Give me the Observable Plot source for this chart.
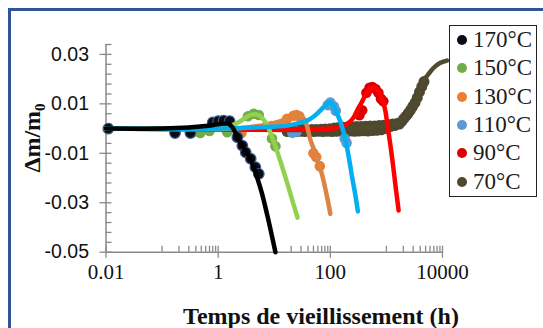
<!DOCTYPE html>
<html><head><meta charset="utf-8">
<script src="https://cdn.jsdelivr.net/npm/d3@7"></script>
<script src="https://cdn.jsdelivr.net/npm/@observablehq/plot@0.6"></script>
<style>
html,body{margin:0;padding:0;background:#fff;}
#wrap{position:relative;width:543px;height:328px;overflow:hidden;background:#fff;}
#frame{position:absolute;left:8px;top:8px;width:700px;height:500px;border:3px solid #2f5597;box-sizing:border-box;}
#chart{position:absolute;left:0;top:0;}
#legend{position:absolute;left:449px;top:25px;width:86px;height:170px;border:1.5px solid #222;background:#fff;}
.row{height:28.33px;display:flex;align-items:center;font-family:"Liberation Serif",serif;font-size:23px;color:#1b1b1b;white-space:nowrap;}
.sw{width:10px;height:10px;border-radius:50%;margin-left:7px;margin-right:6px;flex:none;}
#xt{position:absolute;left:321px;top:304px;transform:translateX(-50%);font-family:"Liberation Serif",serif;font-weight:bold;font-size:24px;line-height:24px;white-space:nowrap;color:#111;}
#yt{position:absolute;left:33px;top:138px;transform:translate(-50%,-50%) rotate(-90deg);font-family:"Liberation Serif",serif;font-weight:bold;font-size:24px;line-height:24px;white-space:nowrap;color:#111;}
#yt span{font-size:15px;position:relative;top:5px;}
</style>
</head><body>
<div id="wrap">
  <div id="frame"></div>
  <div id="chart"></div>
  <div id="legend"></div>
  <div id="xt">Temps de vieillissement (h)</div>
  <div id="yt">Δm/m<span>0</span></div>
</div>
<script>
// ---- series names and colours
const seriesNames = ["170°C","150°C","130°C","110°C","90°C","70°C"];
const markerColors = ["#0b0b16","#74ab4a","#ed7d31","#5b9bd5","#dd0000","#4d482e"];
const lineColors   = ["#000000","#92d050","#dc8444","#00b0f0","#ff0000","#4f4a30"];

// ---- axis ticks
const xMajor = [0.01, 1, 100, 10000];
const xTickLabels = ["0.01","1","100","10000"];
const xMinor = [0.1,0.2,0.3,0.4,0.5,0.6,0.7,0.8,0.9,10,20,30,40,50,60,70,80,90,1000,2000,3000,4000,5000,6000,7000,8000,9000];
const yMajor = [0.03, 0.01, -0.01, -0.03, -0.05];
const yTickLabels = ["0.03","0.01","-0.01","-0.03","-0.05"];
const yMinor = [0.034,0.026,0.022,0.018,0.014,0.006,0.002,-0.002,-0.006,-0.014,-0.018,-0.022,-0.026,-0.034,-0.038,-0.042,-0.046];

// ---- 170°C
const pts170T = [0.011,0.17,0.32,0.8,1.0,1.25,1.6,2.2,2.7,3.1,3.8,4.6,5.3];
const pts170V = [0.0,-0.0018,-0.0018,0.0025,0.003,0.0032,0.003,-0.0035,-0.0069,-0.0096,-0.0122,-0.0156,-0.0183];
const fit170T = [0.01,0.1,0.3,0.6,1.0,1.5,1.8,2.2,2.8,3.8,4.9,6.0,7.5,9.0,10.5];
const fit170V = [0,0,0.0004,0.001,0.0017,0.002,0.0005,-0.0035,-0.0075,-0.0125,-0.0195,-0.026,-0.035,-0.043,-0.05];

// ---- 150°C
const pts150T = [0.48,0.7,1.45,3.4,4.3,5.3,9.1,10.5];
const pts150V = [-0.0018,-0.001,-0.0015,0.005,0.006,0.0055,-0.004,-0.0072];
const fit150T = [0.01,0.5,1.0,1.5,2.0,2.7,3.5,4.5,5.5,6.5,7.8,9.0,10.5,13,17,21,26];
const fit150V = [0,0,0.0002,0.0008,0.0018,0.0035,0.0052,0.0058,0.0052,0.0035,0.0005,-0.003,-0.0072,-0.0135,-0.022,-0.029,-0.036];

// ---- 130°C
const pts130T = [2.6,9,13,17,22,25,28,50,56,65];
const pts130V = [-0.0018,0.001,0.0015,0.004,0.0052,0.0055,0.005,-0.010,-0.0115,-0.0152];
const fit130T = [0.01,2,4,8,13,17,21,25,29,33,37,44,52,60,70,80,90,100];
const fit130V = [0,0,0.0007,0.0018,0.003,0.004,0.005,0.0058,0.0055,0.0042,0.0022,-0.0045,-0.009,-0.0135,-0.018,-0.0235,-0.029,-0.0345];

// ---- 110°C
const pts110T = [0.17,0.34,1.0,21,25,90,100,115,125,180,195];
const pts110V = [-0.0017,-0.0017,0.003,-0.0017,-0.0012,0.0095,0.0105,0.009,0.0072,-0.004,-0.0058];
const fit110T = [0.01,1,5,17,30,39,50,66,80,92,100,110,132,150,163,187,215,245,280,310];
const fit110V = [0,0,0.0005,0.0012,0.0025,0.0033,0.0048,0.0073,0.0092,0.0104,0.0107,0.0098,0.006,0.003,0.0005,-0.0048,-0.012,-0.0197,-0.027,-0.0335];

// ---- 90°C
const pts90T = [330,370,440,500,560,640,720,800,880];
const pts90V = [0.0054,0.0074,0.0145,0.0165,0.0168,0.016,0.0145,0.0121,0.011];
const fit90T = [0.01,100,130,170,210,260,300,360,453,556,650,780,870,955,1050,1170,1300,1450,1650];
const fit90V = [0,0,0.0003,0.001,0.0022,0.0045,0.0073,0.0105,0.0147,0.0167,0.0163,0.014,0.011,0.0073,0.001,-0.0062,-0.014,-0.023,-0.0331];

// ---- 70°C
const pts70T = [17,18.6,20.4,22.4,24.5,26.9,29.5,32,35,39,43,47,51,56,62,68,74,81,89,98,107,118,129,141,155,170,186,204,224,245,269,295,324,355,389,427,468,513,562,617,676,741,813,891,977,1070,1170,1290,1410,1550,1700,1860,2040,2240,2450,2690,2950,3240,3550,3890,4270,4680];
const pts70V = [-0.0012,-0.0005,-0.0011,-0.0004,-0.0012,-0.0005,-0.0011,-0.0004,-0.0012,-0.0005,-0.0011,-0.0004,-0.0012,-0.0004,-0.0011,-0.0003,-0.0012,-0.0002,-0.0011,-0.0001,-0.0012,0.0002,-0.0011,0.0004,-0.001,0.0005,-0.0011,0.0006,-0.001,0.0007,-0.0011,0.0008,-0.001,0.0008,-0.0009,0.0009,-0.001,0.001,-0.0008,0.001,-0.0007,0.0012,-0.0005,0.0013,0.0,0.0016,0.0008,0.0018,0.0012,0.002,0.0018,0.0028,0.004,0.005,0.0062,0.0075,0.009,0.0105,0.0125,0.0148,0.017,0.019];
const fit70T = [0.01,20,50,100,200,500,1000,1500,2000,2350,2700,3000,3500,4000,4600,5400,6900,9000,12000];
const fit70V = [0,-0.0006,-0.0006,-0.0004,-0.0002,0.0003,0.001,0.0022,0.004,0.006,0.0078,0.0095,0.0125,0.0155,0.0195,0.0215,0.0245,0.0265,0.0275];

const ptsT = [pts170T,pts150T,pts130T,pts110T,pts90T,pts70T];
const ptsV = [pts170V,pts150V,pts130V,pts110V,pts90V,pts70V];
const fitT = [fit170T,fit150T,fit130T,fit110T,fit90T,fit70T];
const fitV = [fit170V,fit150V,fit130V,fit110V,fit90V,fit70V];
const zip = (T,V) => T.map((t,i)=>({t, v:V[i]}));

const W=543, H=328, ML=105.5, MR=101, MT=44, MB=76.3;
const innerW = W-ML-MR, innerH = H-MT-MB;
const axisColor = "#8a8a8a";

const markerOrder = [5,4,3,2,1,0];
const lineOrder = [5,4,2,1,3,0];

const marks = [
  Plot.ruleX([0.01], {stroke: axisColor, strokeWidth: 1.5}),
  Plot.ruleY([-0.05], {stroke: axisColor, strokeWidth: 1.5}),
  Plot.tickY(yMajor, {y: d=>d, insetLeft: -6, insetRight: innerW-6, stroke: axisColor, strokeWidth: 1.3}),
  Plot.tickY(yMinor, {y: d=>d, insetRight: innerW-6, stroke: axisColor, strokeWidth: 1.3}),
  Plot.tickX(xMajor, {x: d=>d, insetTop: innerH-6, insetBottom: -6, stroke: axisColor, strokeWidth: 1.3}),
  Plot.tickX(xMinor, {x: d=>d, insetTop: innerH-6, stroke: axisColor, strokeWidth: 1.3}),
  Plot.text(xMajor, {x: d=>d, text: (d,i)=>xTickLabels[i], frameAnchor: "bottom", dy: 27, fontFamily: "Liberation Serif", fontSize: 21, fill: "#111"}),
  Plot.text(yMajor, {y: d=>d, text: (d,i)=>yTickLabels[i], frameAnchor: "left", dx: -17, textAnchor: "end", fontFamily: "Liberation Sans", fontSize: 19.5, fill: "#111"})
];
for (const k of markerOrder) {
  marks.push(Plot.dot(zip(ptsT[k], ptsV[k]), {x: "t", y: "v", r: k===5 ? 5.5 : 5.3, fill: markerColors[k],
    stroke: k===0 ? "#3a5f8f" : "none", strokeWidth: k===0 ? 1.2 : 0}));
}
for (const k of lineOrder) {
  marks.push(Plot.line(zip(fitT[k], fitV[k]), {x: "t", y: "v", stroke: lineColors[k], strokeWidth: 4.5, curve: "catmull-rom"}));
}

const chart = Plot.plot({
  width: W, height: H, marginLeft: ML, marginRight: MR, marginTop: MT, marginBottom: MB,
  style: {background: "transparent", overflow: "visible"},
  x: {type: "log", domain: [0.01, 10000], axis: null},
  y: {domain: [-0.05, 0.034], axis: null},
  marks
});
document.getElementById("chart").appendChild(chart);

// legend
const lg = document.getElementById("legend");
seriesNames.forEach((name, i) => {
  const row = document.createElement("div");
  row.className = "row";
  const sw = document.createElement("span");
  sw.className = "sw";
  sw.style.background = markerColors[i];
  row.appendChild(sw);
  row.appendChild(document.createTextNode(name));
  lg.appendChild(row);
});
</script>
</body></html>
